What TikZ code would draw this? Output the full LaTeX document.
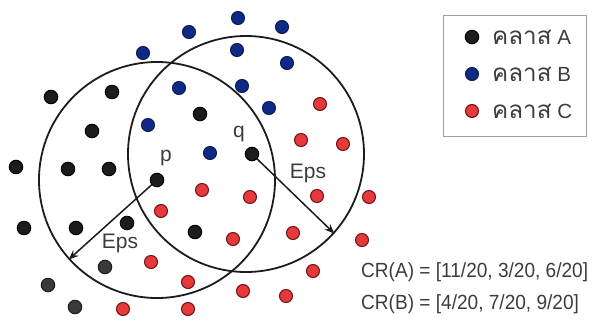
\documentclass[tikz,border=0pt]{standalone}
\usepackage{fontspec}
\setmainfont{Liberation Sans}
\newfontfamily\thaifont[Script=Thai,Scale=1.18]{Loma}
\newfontfamily\crfont[FakeStretch=0.93]{Liberation Sans}
\usetikzlibrary{arrows.meta,backgrounds}

\definecolor{inkA}{HTML}{1C1C1C}
\definecolor{inkAsoft}{HTML}{3A3A3A}
\definecolor{inkB}{HTML}{0F2A86}
\definecolor{inkBedge}{HTML}{0A1A55}
\definecolor{inkC}{HTML}{E5393B}
\definecolor{inkCedge}{HTML}{6E1414}
\definecolor{txt}{HTML}{3C3C3C}

\tikzset{
  pt/.style={circle, inner sep=0pt, minimum size=13.5pt, line width=1pt},
  dotA/.style={pt, fill=inkA, draw=black},
  dotAsoft/.style={pt, fill=inkAsoft, draw=inkA},
  dotB/.style={pt, fill=inkB, draw=inkBedge, minimum size=13pt},
  dotC/.style={pt, fill=inkC, draw=inkCedge, minimum size=13pt},
  epsring/.style={circle, draw=inkA, line width=1.8pt, minimum size=236pt, inner sep=0pt},
  epsarrow/.style={draw=inkA, line width=1.5pt,
    -{Stealth[length=10pt,width=8pt,inset=3.5pt]}},
  lbl/.style={text=txt, font=\fontsize{21}{24}\selectfont, inner sep=0pt},
  crlbl/.style={text=txt, font=\crfont\fontsize{20.5}{24}\selectfont, inner sep=0pt, anchor=west},
  leglbl/.style={text=txt, font=\fontsize{20.5}{24}\selectfont, inner sep=0pt, anchor=west},
}

\begin{document}
\begin{tikzpicture}[x=1pt, y=-1pt]
\useasboundingbox (0,0) rectangle (598,322);

% the two core points
\node[dotA] (p) at (157,180) {};
\node[dotA] (q) at (252,154) {};

% class A points
\foreach \x/\y [count=\i] in {51/97, 112/92, 92/131, 200/114, 16/167, 68/169,
    109/169, 24/228, 76/228, 127/223, 195/232}
  \node[dotA] (a\i) at (\x,\y) {};
\foreach \x/\y [count=\i] in {105/267, 48/285, 75/307}
  \node[dotAsoft] (as\i) at (\x,\y) {};

% class B points
\foreach \x/\y [count=\i] in {238/18, 189/32, 282/27, 143/53, 237/50, 287/63,
    179/88, 242/86, 269/108, 148/125, 210/153}
  \node[dotB] (b\i) at (\x,\y) {};

% class C points
\foreach \x/\y [count=\i] in {320/104, 301/140, 343/144, 202/190, 250/197,
    317/196, 369/197, 161/211, 233/239, 293/233, 362/240, 151/262, 313/271,
    188/282, 243/291, 286/296, 123/309, 188/309}
  \node[dotC] (c\i) at (\x,\y) {};

% Eps neighbourhoods and their radii
\begin{scope}[on background layer]
  \node[epsring] (rp) at (p.center) {};
  \node[epsring] (rq) at (246,154) {};
  \draw[epsarrow] (p.center) -- (rp.222.5);
  \draw[epsarrow] (q.center) -- (rq.318);
\end{scope}

\node[lbl] (plbl) at (166,158) {p};
\node[lbl] (qlbl) at (239,134) {q};
\node[lbl] (epsp) at (120,243) {Eps};
\node[lbl] (epsq) at (308,173) {Eps};

% legend
\node[draw=gray!75, line width=0.8pt, anchor=north west, minimum width=143pt,
      minimum height=121pt, inner sep=0pt] (legend) at (443,15) {};
\node[dotA] (ka) at (472,37) {};
\node[dotB] (kb) at (472,74) {};
\node[dotC] (kc) at (472,111) {};
\node[leglbl] (la) at (492,37) {{\thaifont คลาส} A};
\node[leglbl] (lb) at (492,74) {{\thaifont คลาส} B};
\node[leglbl] (lc) at (492,111) {{\thaifont คลาส} C};

% class ratios
\node[crlbl] (cra) at (361,272) {CR(A) = [11/20, 3/20, 6/20]};
\node[crlbl] (crb) at (361,304) {CR(B) = [4/20, 7/20, 9/20]};
\end{tikzpicture}
\end{document}
